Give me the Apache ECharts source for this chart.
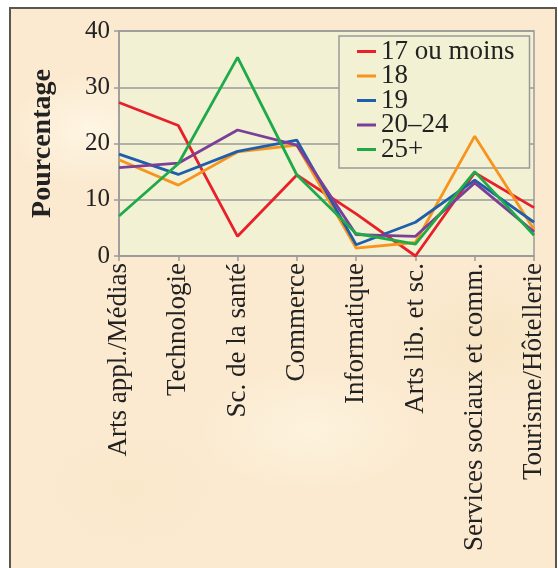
<!DOCTYPE html>
<html>
<head>
<meta charset="utf-8">
<script src="https://cdn.jsdelivr.net/npm/echarts@6/dist/echarts.min.js"></script>
<style>
  html, body { margin: 0; padding: 0; background: #ffffff; }
  #frame {
    position: absolute; left: 9px; top: 7px; width: 544px; height: 570px;
    border: 2px solid #5a5652;
    background:
      radial-gradient(ellipse 120px 80px at 80px 120px, rgba(255,250,235,0.7), rgba(255,250,235,0) 70%),
      radial-gradient(ellipse 160px 90px at 300px 420px, rgba(255,248,230,0.6), rgba(255,248,230,0) 70%),
      radial-gradient(ellipse 140px 100px at 470px 330px, rgba(246,226,190,0.6), rgba(246,226,190,0) 70%),
      radial-gradient(ellipse 130px 90px at 120px 480px, rgba(248,230,198,0.6), rgba(248,230,198,0) 70%),
      #fbead0;
  }
  #chart { position: absolute; left: 0; top: 0; width: 558px; height: 568px; }
</style>
</head>
<body>
<div id="frame"></div>
<div id="chart"></div>
<script>
// Répartition des inscriptions par domaine d'études, selon l'âge
const categories = [
  'Arts appl./Médias', 'Technologie', 'Sc. de la santé', 'Commerce',
  'Informatique', 'Arts lib. et sc.', 'Services sociaux et comm.', 'Tourisme/Hôtellerie'
];
const age17 = [27.3, 23.2, 3.5, 14.4, 7.5, 0.0, 14.8, 8.6];
const age18 = [17.1, 12.6, 18.5, 19.7, 1.4, 2.4, 21.3, 4.7];
const age19 = [18.1, 14.5, 18.6, 20.6, 2.0, 6.0, 13.5, 6.0];
const age20_24 = [15.7, 16.5, 22.4, 19.7, 3.8, 3.5, 13.0, 4.3];
const age25plus = [7.1, 16.4, 35.3, 14.4, 4.0, 2.1, 15.0, 3.7];
const yTicks = [0, 10, 20, 30, 40];

const seriesDefs = [
  { name: '17 ou moins', data: age17, color: '#e8202a' },
  { name: '18', data: age18, color: '#f7941d' },
  { name: '19', data: age19, color: '#1f5eaa' },
  { name: '20–24', data: age20_24, color: '#7b3f98' },
  { name: '25+', data: age25plus, color: '#1faa4a' }
];

const serif = '"Liberation Serif", "DejaVu Serif", serif';
const chart = echarts.init(document.getElementById('chart'), null, { renderer: 'canvas' });

chart.setOption({
  animation: false,
  backgroundColor: 'transparent',
  textStyle: { fontFamily: serif },
  grid: {
    left: 119, right: 24, top: 31, bottom: 312, z: 0,
    show: true, backgroundColor: '#f3f1d4', borderColor: '#9a9a9a', borderWidth: 1.5
  },
  legend: {
    orient: 'vertical', left: 339, top: 36, z: 1,
    padding: [2, 15, 5, 18],
    backgroundColor: '#f3f1d4', borderColor: '#9a9a9a', borderWidth: 1.5,
    icon: 'rect', itemWidth: 19, itemHeight: 3, itemGap: -2.5,
    textStyle: { fontFamily: serif, fontSize: 27, color: '#222' },
    data: seriesDefs.map(s => s.name)
  },
  xAxis: {
    type: 'category', data: categories, boundaryGap: false,
    axisLine: { lineStyle: { color: '#9a9a9a', width: 1.5 } },
    axisTick: { show: true, length: 5, lineStyle: { color: '#9a9a9a', width: 1.5 } },
    axisLabel: { rotate: 90, fontSize: 27, color: '#222', margin: 7, fontFamily: serif, interval: 0 },
    splitLine: { show: false }
  },
  yAxis: {
    type: 'value', min: yTicks[0], max: yTicks[yTicks.length - 1], interval: 10,
    name: 'Pourcentage', nameLocation: 'middle', nameGap: 62, nameRotate: 90,
    nameTextStyle: { fontFamily: serif, fontSize: 28, fontWeight: 'bold', color: '#222' },
    axisLine: { show: true, lineStyle: { color: '#9a9a9a', width: 1.5 } },
    axisTick: { show: true, length: 5, lineStyle: { color: '#9a9a9a', width: 1.5 } },
    axisLabel: { fontSize: 25, color: '#222', margin: 9, fontFamily: serif },
    splitLine: { lineStyle: { color: '#9a9a9a', width: 1.5 } }
  },
  series: seriesDefs.map(s => ({
    name: s.name, type: 'line', data: s.data, z: 3,
    symbol: 'none', color: s.color,
    lineStyle: { color: s.color, width: 2.8 }
  }))
});
</script>
</body>
</html>
